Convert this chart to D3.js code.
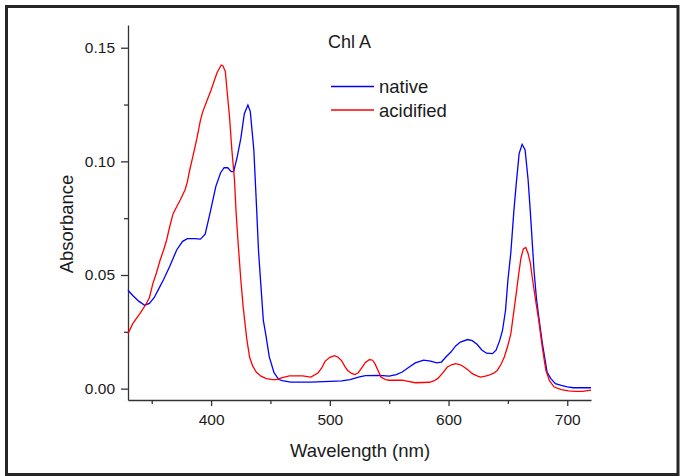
<!DOCTYPE html>
<html>
<head>
    <title>Chl A absorbance</title>
    <script src="https://d3js.org/d3.v7.min.js"></script>
    <style>
        body { margin: 0; background: #fff; }
        svg text { font-family: "Liberation Sans", Arial, sans-serif; fill: #1a1a1a; }
        .axis path, .axis line { stroke: #333; stroke-width: 1.3; }
    </style>
</head>
<body>
<svg id="chart" width="682" height="476"></svg>
<script>
    // Data
    var nativeWl = [330, 334, 339, 344, 348, 352, 356, 360, 365, 371, 376, 380, 386, 391, 395, 399, 404, 408, 411, 414, 417, 419,
        422, 425, 428, 431, 433, 436, 438, 440, 442, 444, 446, 449, 453, 457, 460, 467, 484, 500, 510, 517, 525, 530, 542,
        550, 556, 561, 566, 572, 579, 585, 590, 594, 598, 602, 606, 610, 616, 620, 624, 628, 632, 637, 640, 643, 645.5, 648,
        650, 652.5, 655, 657, 659.5, 662, 664.5, 667, 669, 672, 674, 676, 679, 683, 686, 690, 695, 700, 705, 720];
    var nativeAbs = [0.0433, 0.041, 0.0385, 0.0367, 0.0375, 0.040, 0.044, 0.048, 0.0536, 0.061, 0.0648, 0.066, 0.066, 0.0658, 0.068,
        0.077, 0.089, 0.095, 0.0972, 0.0972, 0.0955, 0.0955, 0.102, 0.110, 0.121, 0.1248, 0.122, 0.105, 0.083, 0.060, 0.045,
        0.030, 0.024, 0.014, 0.007, 0.004, 0.0035, 0.0029, 0.0029, 0.0032, 0.0034, 0.004, 0.0052, 0.0057, 0.0058, 0.0055,
        0.0062, 0.0073, 0.0092, 0.0113, 0.0125, 0.0121, 0.0113, 0.0117, 0.014, 0.0161, 0.0188, 0.0205, 0.0216, 0.0211,
        0.0195, 0.017, 0.0156, 0.0154, 0.0169, 0.021, 0.0257, 0.0345, 0.0477, 0.060, 0.078, 0.090, 0.1035, 0.1075, 0.105,
        0.092, 0.077, 0.052, 0.040, 0.0315, 0.020, 0.0073, 0.0045, 0.0022, 0.0014, 0.0008, 0.0004, 0.0004];

    var acidWl = [330, 334, 340, 345, 348, 351, 354, 357, 360, 362.5, 365, 368, 371, 374, 378, 380, 382, 385, 388, 391, 393, 396,
        400, 403, 405, 408.5, 410, 412, 414, 415.5, 417.5, 419.7, 421, 422.6, 425, 427, 430, 432.4, 435, 438, 442, 446.5,
        452, 455, 460, 466, 477, 484, 490, 493, 496, 500, 504, 507, 510, 513, 515, 518, 521, 524, 527, 530, 533.5, 536, 538,
        541, 543, 547, 550, 561, 566, 572, 584, 588, 591, 595, 599, 603, 606, 610, 613, 617, 620, 624, 627, 631, 634, 638,
        641, 644, 647, 650, 652.5, 655, 657, 659, 661, 663, 665, 667, 669, 670.5, 673, 676, 679, 682, 685, 689, 695, 701,
        707, 713, 720];
    var acidAbs = [0.0242, 0.0286, 0.033, 0.037, 0.040, 0.0463, 0.051, 0.0565, 0.061, 0.0653, 0.071, 0.077, 0.080, 0.083, 0.0874,
        0.091, 0.0962, 0.103, 0.110, 0.118, 0.1219, 0.126, 0.1314, 0.136, 0.139, 0.1424, 0.142, 0.1395, 0.128, 0.1197, 0.105,
        0.0918, 0.078, 0.0653, 0.048, 0.036, 0.022, 0.0139, 0.010, 0.0073, 0.0055, 0.0044, 0.004, 0.004, 0.0048, 0.0056,
        0.0056, 0.0051, 0.0069, 0.009, 0.012, 0.0138, 0.0145, 0.0138, 0.0122, 0.0095, 0.008, 0.0068, 0.0062, 0.007, 0.0092,
        0.0115, 0.0128, 0.0125, 0.011, 0.0075, 0.0051, 0.004, 0.0037, 0.0037, 0.0032, 0.0026, 0.0028, 0.0035, 0.0045, 0.0068,
        0.0095, 0.0106, 0.011, 0.0105, 0.0095, 0.008, 0.0066, 0.0056, 0.0051, 0.0055, 0.0059, 0.0068, 0.008, 0.0105, 0.0139,
        0.019, 0.0242, 0.034, 0.0418, 0.050, 0.0575, 0.0615, 0.0621, 0.0595, 0.055, 0.049, 0.040, 0.030, 0.018, 0.008,
        0.0035, 0.0007, -0.0004, -0.001, -0.0012, -0.0012, -0.0007];

    var xTicks = [400, 500, 600, 700];
    var xMinor = [350, 450, 550, 650];
    var yTicks = [0, 0.05, 0.10, 0.15];
    var yMinor = [0.025, 0.075, 0.125];
    var seriesNames = ["native", "acidified"];
    var seriesColors = ["#0000ff", "#ff0000"];

    var svg = d3.select("#chart");

    // frame around the figure
    svg.append("rect")
        .attr("x", 6.5).attr("y", 6.5)
        .attr("width", 671.5).attr("height", 468)
        .attr("fill", "none")
        .attr("stroke", "#262626")
        .attr("stroke-width", 3);

    var x = d3.scaleLinear().domain([330, 720]).range([128, 591]);
    var y = d3.scaleLinear().domain([-0.005, 0.16]).range([400, 25]);

    // axes
    var xAxis = svg.append("g").attr("class", "axis").attr("transform", "translate(0,400)")
        .call(d3.axisBottom(x).tickValues(xTicks).tickSize(6).tickSizeOuter(0).tickPadding(8));
    xAxis.selectAll("text").attr("font-size", 15.5).style("font-family", "Liberation Sans, Arial, sans-serif");
    svg.append("g").attr("class", "axis").attr("transform", "translate(0,400)")
        .call(d3.axisBottom(x).tickValues(xMinor).tickSize(4).tickSizeOuter(0).tickFormat(""))
        .select(".domain").remove();

    var yAxis = svg.append("g").attr("class", "axis").attr("transform", "translate(128,0)")
        .call(d3.axisLeft(y).tickValues(yTicks).tickFormat(d3.format(".2f")).tickSize(7).tickSizeOuter(0).tickPadding(6));
    yAxis.selectAll("text").attr("font-size", 15.5).style("font-family", "Liberation Sans, Arial, sans-serif");
    svg.append("g").attr("class", "axis").attr("transform", "translate(128,0)")
        .call(d3.axisLeft(y).tickValues(yMinor).tickSize(4).tickSizeOuter(0).tickFormat(""))
        .select(".domain").remove();

    // curves
    var line = d3.line()
        .x(function (d) { return x(d[0]); })
        .y(function (d) { return y(d[1]); });

    var series = [d3.zip(nativeWl, nativeAbs), d3.zip(acidWl, acidAbs)];
    svg.selectAll("path.curve")
        .data(series)
        .enter()
        .append("path")
        .attr("class", "curve")
        .attr("d", line)
        .attr("fill", "none")
        .attr("stroke", function (d, i) { return seriesColors[i]; })
        .attr("stroke-width", 1.3);

    // axis titles
    svg.append("text")
        .attr("x", 360).attr("y", 457)
        .attr("text-anchor", "middle")
        .attr("font-size", 18.5)
        .text("Wavelength (nm)");
    svg.append("text")
        .attr("transform", "translate(73,224) rotate(-90)")
        .attr("text-anchor", "middle")
        .attr("font-size", 18.5)
        .text("Absorbance");

    // title and legend
    svg.append("text")
        .attr("x", 328).attr("y", 48)
        .attr("font-size", 18)
        .text("Chl A");

    var legend = svg.selectAll("g.legend")
        .data(seriesNames)
        .enter()
        .append("g")
        .attr("class", "legend")
        .attr("transform", function (d, i) { return "translate(331," + (86.5 + i * 23.5) + ")"; });
    legend.append("line")
        .attr("x1", 0).attr("x2", 43)
        .attr("stroke", function (d, i) { return seriesColors[i]; })
        .attr("stroke-width", 1.3);
    legend.append("text")
        .attr("x", 48).attr("y", 6.5)
        .attr("font-size", 18.5)
        .text(function (d) { return d; });
</script>
</body>
</html>
